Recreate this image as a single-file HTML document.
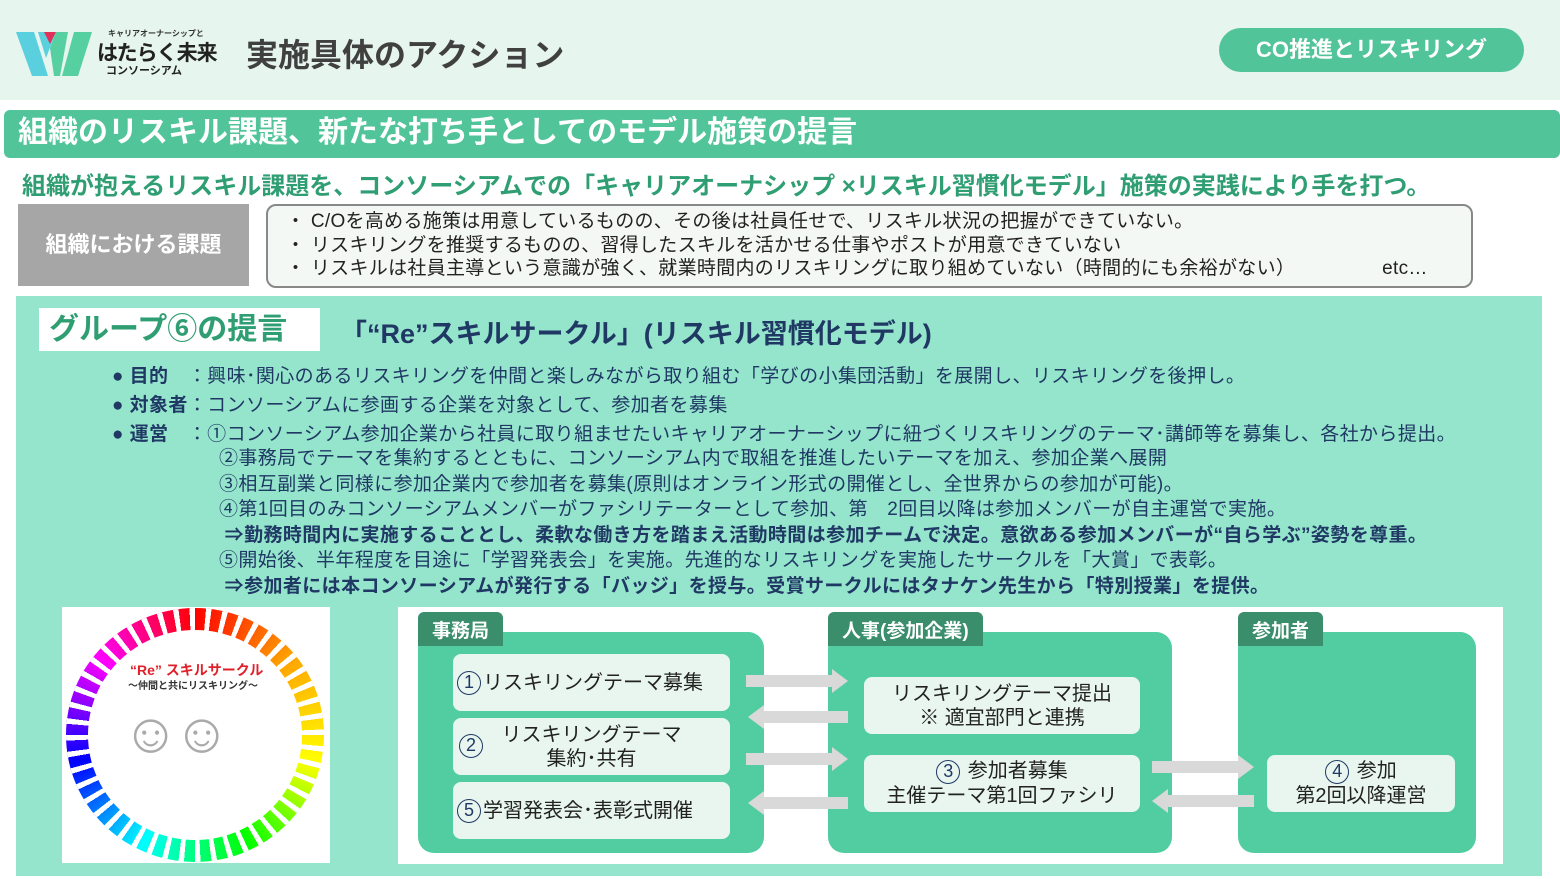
<!DOCTYPE html>
<html><head><meta charset="utf-8"><style>
*{margin:0;padding:0;box-sizing:border-box}
body{width:1560px;height:879px;position:relative;background:#fff;font-family:"Liberation Sans","Noto Sans CJK JP",sans-serif;overflow:hidden}
.a{position:absolute;white-space:nowrap}
.navy{color:#1f3864}
.sub{background:#e8f6ef;border-radius:8px;position:absolute;display:flex;align-items:center;justify-content:center;text-align:center;font-size:20px;color:#222;line-height:24px}
.panel{position:absolute;background:#52cda2;border-radius:16px}
.tab{position:absolute;background:#3a8e6c;color:#fff;font-size:19px;border-radius:6px 6px 0 0;padding:4px 14px;font-weight:bold}
.c{display:inline-block;width:24px;height:24px;border:1.5px solid #1f3864;border-radius:50%;font-size:18px;line-height:21px;text-align:center;color:#1f3864;margin-right:2px}
</style></head><body>
<div class="a" style="left:0;top:0;width:1560px;height:100px;background:#e6f5ee"></div>
<svg class="a" style="left:16px;top:32px" width="76" height="44"><polygon points="0,0 18,0 32,44 16,44" fill="#5ad0de"/><polygon points="22,0 40,0 30,26" fill="#5ad0de"/><polygon points="28,0 40,0 34,12" fill="#e0305a"/><polygon points="34,16 40,0 52,0 44,44 38,44" fill="#56d0a0"/><polygon points="58,0 76,0 62,44 46,44" fill="#56d0a0"/></svg>
<div class="a" style="left:108px;top:28px;font-size:8px;font-weight:bold;color:#333">キャリアオーナーシップと</div>
<div class="a" style="left:97px;top:37px;font-size:21px;font-weight:bold;color:#222;letter-spacing:-1px">はたらく未来</div>
<div class="a" style="left:106px;top:62px;font-size:11px;font-weight:bold;color:#222">コンソーシアム</div>
<div class="a" style="left:246px;top:30px;font-size:32px;font-weight:bold;color:#404040">実施具体のアクション</div>
<div class="a" style="left:1219px;top:28px;width:305px;height:44px;background:#52c49a;border-radius:22px;color:#fff;font-size:22px;font-weight:bold;text-align:center;line-height:44px">CO推進とリスキリング</div>
<div class="a" style="left:4px;top:110px;width:1556px;height:48px;background:#52c49a;border-radius:6px;color:#fff;font-size:30px;font-weight:bold;line-height:46px;padding-left:14px">組織のリスキル課題、新たな打ち手としてのモデル施策の提言</div>
<div class="a" style="left:22px;top:166px;font-size:24px;font-weight:bold;color:#2f9e73">組織が抱えるリスキル課題を、コンソーシアムでの「キャリアオーナシップ ×リスキル習慣化モデル」施策の実践により手を打つ。</div>
<div class="a" style="left:18px;top:204px;width:231px;height:82px;background:#a6a6a6;color:#fff;font-size:22px;font-weight:bold;text-align:center;line-height:82px">組織における課題</div>
<div class="a" style="left:266px;top:204px;width:1207px;height:84px;background:#f4f8f4;border:2px solid #888;border-radius:10px;font-size:19px;color:#222;line-height:23.5px;padding:4px 0 0 18px;letter-spacing:0.3px">・ C/Oを高める施策は用意しているものの、その後は社員任せで、リスキル状況の把握ができていない。<br>・ リスキリングを推奨するものの、習得したスキルを活かせる仕事やポストが用意できていない<br>・ リスキルは社員主導という意識が強く、就業時間内のリスキリングに取り組めていない（時間的にも余裕がない）　　　　　etc…</div>
<div class="a" style="left:16px;top:296px;width:1526px;height:580px;background:#95e5cc"></div>
<div class="a" style="left:39px;top:308px;width:281px;height:43px;background:#fff;color:#2f9e73;font-size:30px;font-weight:bold;line-height:43px;padding-left:10px">グループ⑥の提言</div>
<div class="a navy" style="left:340px;top:312px;font-size:27px;font-weight:bold">「“Re”スキルサークル」(リスキル習慣化モデル)</div>
<div class="a navy" style="left:112px;top:362px;font-size:19px;line-height:29px;letter-spacing:0.4px">● <b>目的</b>　：興味･関心のあるリスキリングを仲間と楽しみながら取り組む「学びの小集団活動」を展開し、リスキリングを後押し。<br>● <b>対象者</b>：コンソーシアムに参画する企業を対象として、参加者を募集<br>● <b>運営</b>　：①コンソーシアム参加企業から社員に取り組ませたいキャリアオーナーシップに紐づくリスキリングのテーマ･講師等を募集し、各社から提出。</div>
<div class="a navy" style="left:219px;top:446px;font-size:19px;line-height:25.5px;letter-spacing:0.4px">②事務局でテーマを集約するとともに、コンソーシアム内で取組を推進したいテーマを加え、参加企業へ展開<br>③相互副業と同様に参加企業内で参加者を募集(原則はオンライン形式の開催とし、全世界からの参加が可能)。<br>④第1回目のみコンソーシアムメンバーがファシリテーターとして参加、第　2回目以降は参加メンバーが自主運営で実施。<br><b>&nbsp;⇒勤務時間内に実施することとし、柔軟な働き方を踏まえ活動時間は参加チームで決定。意欲ある参加メンバーが“自ら学ぶ”姿勢を尊重。</b><br>⑤開始後、半年程度を目途に「学習発表会」を実施。先進的なリスキリングを実施したサークルを「大賞」で表彰。<br><b>&nbsp;⇒参加者には本コンソーシアムが発行する「バッジ」を授与。受賞サークルにはタナケン先生から「特別授業」を提供。</b></div>
<div class="a" style="left:62px;top:607px;width:268px;height:256px;background:#fff"></div>
<div class="a" style="left:66px;top:608px;width:258px;height:254px;border-radius:50%;background:conic-gradient(red,orange,yellow,lime,cyan,blue,magenta,red)"></div>
<div class="a" style="left:66px;top:608px;width:258px;height:254px;border-radius:50%;background:repeating-conic-gradient(transparent 0deg 5deg,#fff 5deg 7.5deg)"></div>
<div class="a" style="left:88px;top:630px;width:214px;height:210px;border-radius:50%;background:#fff"></div>
<div class="a" style="left:130px;top:660px;font-size:14px;font-weight:bold;color:#e0202a">“Re” スキルサークル</div>
<div class="a" style="left:128px;top:677px;font-size:10px;font-weight:bold;color:#333">～仲間と共にリスキリング～</div>
<div class="a" style="left:122px;top:700px;font-size:56px;color:#aaa;letter-spacing:-6px">☺☺</div>
<div class="a" style="left:398px;top:607px;width:1105px;height:257px;background:#fff"></div>
<div class="panel" style="left:418px;top:632px;width:346px;height:221px"></div>
<div class="panel" style="left:828px;top:632px;width:344px;height:221px"></div>
<div class="panel" style="left:1238px;top:632px;width:238px;height:221px"></div>
<div class="tab" style="left:418px;top:612px;height:34px">事務局</div>
<div class="tab" style="left:828px;top:612px;height:34px">人事(参加企業)</div>
<div class="tab" style="left:1238px;top:612px;height:34px">参加者</div>
<div class="sub" style="left:453px;top:654px;width:277px;height:57px;justify-content:flex-start;padding-left:4px"><span class="c">1</span>リスキリングテーマ募集</div>
<div class="sub" style="left:453px;top:718px;width:277px;height:57px"><span class="c" style="position:absolute;left:6px;top:16px">2</span>リスキリングテーマ<br>集約･共有</div>
<div class="sub" style="left:453px;top:782px;width:277px;height:57px;justify-content:flex-start;padding-left:4px"><span class="c">5</span>学習発表会･表彰式開催</div>
<div class="sub" style="left:864px;top:677px;width:276px;height:57px">リスキリングテーマ提出<br>※ 適宜部門と連携</div>
<div class="sub" style="left:864px;top:755px;width:276px;height:57px"><span><span class="c">3</span> 参加者募集<br>主催テーマ第1回ファシリ</span></div>
<div class="sub" style="left:1267px;top:755px;width:188px;height:57px"><span><span class="c">4</span> 参加<br>第2回以降運営</span></div>
<svg class="a" style="left:0;top:0" width="1560" height="879">
<g fill="#d9d9d9">
<polygon points="746,675 832,675 832,669 848,681 832,693 832,687 746,687"/>
<polygon points="848,711 764,711 764,705 748,717 764,729 764,723 848,723"/>
<polygon points="746,753 832,753 832,747 848,759 832,771 832,765 746,765"/>
<polygon points="848,797 764,797 764,791 748,803 764,815 764,809 848,809"/>
<polygon points="1152,761 1238,761 1238,755 1254,767 1238,779 1238,773 1152,773"/>
<polygon points="1254,795 1168,795 1168,789 1152,801 1168,813 1168,807 1254,807"/>
</g></svg>
</body></html>
